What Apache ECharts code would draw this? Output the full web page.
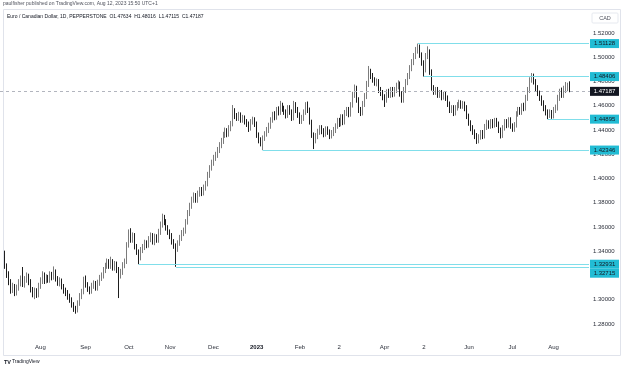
<!DOCTYPE html>
<html><head><meta charset="utf-8">
<script src="https://cdn.jsdelivr.net/npm/echarts@6/dist/echarts.min.js"></script>
<style>html,body{margin:0;padding:0;background:#fff}#c{width:625px;height:369px}</style>
</head><body><div id="c"></div>
<script>
// ---- data ----
const firstDate = '2022-07-06';
const barCount = 298; // 288 traded days + empty space on the right
const opens = [
1.3386,1.3278,1.3204,1.3146,1.3080,1.3105,1.3056,1.3097,1.3138,1.3171,
1.3130,1.3163,1.3188,1.3146,1.3080,1.3047,1.3072,1.3039,1.3113,1.3155,
1.3196,1.3155,1.3179,1.3163,1.3204,1.3188,1.3229,1.3171,1.3138,1.3155,
1.3105,1.3072,1.3056,1.3023,1.2998,1.2957,1.2924,1.2908,1.2973,1.3031,
1.3064,1.3163,1.3122,1.3089,1.3072,1.3113,1.3130,1.3097,1.3138,1.3179,
1.3196,1.3245,1.3278,1.3311,1.3278,1.3311,1.3262,1.3295,1.3245,1.3212,
1.3229,1.3286,1.3311,1.3451,1.3550,1.3493,1.3526,1.3435,1.3394,1.3344,
1.3410,1.3435,1.3468,1.3451,1.3501,1.3526,1.3476,1.3517,1.3493,1.3559,
1.3617,1.3674,1.3641,1.3592,1.3559,1.3526,1.3476,1.3443,1.3419,1.3468,
1.3509,1.3550,1.3567,1.3641,1.3716,1.3773,1.3823,1.3856,1.3823,1.3872,
1.3905,1.3880,1.3922,1.3955,1.4029,1.4087,1.4128,1.4169,1.4194,1.4235,
1.4276,1.4309,1.4359,1.4392,1.4367,1.4416,1.4449,1.4548,1.4515,1.4499,
1.4524,1.4482,1.4499,1.4466,1.4449,1.4416,1.4466,1.4482,1.4449,1.4359,
1.4317,1.4301,1.4334,1.4367,1.4400,1.4433,1.4482,1.4524,1.4507,1.4565,
1.4548,1.4598,1.4573,1.4548,1.4524,1.4581,1.4548,1.4499,1.4606,1.4565,
1.4524,1.4474,1.4499,1.4548,1.4606,1.4565,1.4466,1.4359,1.4317,1.4351,
1.4384,1.4416,1.4392,1.4367,1.4408,1.4384,1.4351,1.4375,1.4400,1.4433,
1.4474,1.4449,1.4507,1.4466,1.4540,1.4565,1.4532,1.4606,1.4689,1.4746,
1.4647,1.4565,1.4540,1.4614,1.4680,1.4779,1.4878,1.4845,1.4812,1.4788,
1.4796,1.4730,1.4705,1.4672,1.4647,1.4713,1.4689,1.4730,1.4697,1.4730,
1.4763,1.4779,1.4697,1.4647,1.4730,1.4796,1.4845,1.4911,1.4961,1.5010,
1.5060,1.5084,1.5018,1.4953,1.4895,1.5010,1.5043,1.4878,1.4746,1.4713,
1.4730,1.4689,1.4705,1.4672,1.4689,1.4664,1.4614,1.4565,1.4581,1.4540,
1.4581,1.4606,1.4623,1.4598,1.4614,1.4581,1.4515,1.4458,1.4416,1.4384,
1.4351,1.4309,1.4342,1.4375,1.4351,1.4425,1.4458,1.4433,1.4466,1.4441,
1.4474,1.4449,1.4400,1.4351,1.4416,1.4466,1.4441,1.4482,1.4433,1.4408,
1.4441,1.4532,1.4565,1.4548,1.4598,1.4581,1.4664,1.4730,1.4812,1.4854,
1.4796,1.4746,1.4705,1.4664,1.4623,1.4581,1.4548,1.4524,1.4540,1.4515,
1.4565,1.4581,1.4664,1.4713,1.4689,1.4730,1.4746,1.47634];
const closes = [
1.3278,1.3204,1.3146,1.3080,1.3105,1.3056,1.3097,1.3138,1.3171,1.3130,
1.3163,1.3188,1.3146,1.3080,1.3047,1.3072,1.3039,1.3113,1.3155,1.3196,
1.3155,1.3179,1.3163,1.3204,1.3188,1.3229,1.3171,1.3138,1.3155,1.3105,
1.3072,1.3056,1.3023,1.2998,1.2957,1.2924,1.2908,1.2973,1.3031,1.3064,
1.3163,1.3122,1.3089,1.3072,1.3113,1.3130,1.3097,1.3138,1.3179,1.3196,
1.3245,1.3278,1.3311,1.3278,1.3311,1.3262,1.3295,1.3245,1.3212,1.3229,
1.3286,1.3311,1.3451,1.3550,1.3493,1.3526,1.3435,1.3394,1.3344,1.3410,
1.3435,1.3468,1.3451,1.3501,1.3526,1.3476,1.3517,1.3493,1.3559,1.3617,
1.3674,1.3641,1.3592,1.3559,1.3526,1.3476,1.3443,1.3419,1.3468,1.3509,
1.3550,1.3567,1.3641,1.3716,1.3773,1.3823,1.3856,1.3823,1.3872,1.3905,
1.3880,1.3922,1.3955,1.4029,1.4087,1.4128,1.4169,1.4194,1.4235,1.4276,
1.4309,1.4359,1.4392,1.4367,1.4416,1.4449,1.4548,1.4515,1.4499,1.4524,
1.4482,1.4499,1.4466,1.4449,1.4416,1.4466,1.4482,1.4449,1.4359,1.4317,
1.4301,1.4334,1.4367,1.4400,1.4433,1.4482,1.4524,1.4507,1.4565,1.4548,
1.4598,1.4573,1.4548,1.4524,1.4581,1.4548,1.4499,1.4606,1.4565,1.4524,
1.4474,1.4499,1.4548,1.4606,1.4565,1.4466,1.4359,1.4317,1.4351,1.4384,
1.4416,1.4392,1.4367,1.4408,1.4384,1.4351,1.4375,1.4400,1.4433,1.4474,
1.4449,1.4507,1.4466,1.4540,1.4565,1.4532,1.4606,1.4689,1.4746,1.4647,
1.4565,1.4540,1.4614,1.4680,1.4779,1.4878,1.4845,1.4812,1.4788,1.4796,
1.4730,1.4705,1.4672,1.4647,1.4713,1.4689,1.4730,1.4697,1.4730,1.4763,
1.4779,1.4697,1.4647,1.4730,1.4796,1.4845,1.4911,1.4961,1.5010,1.5060,
1.5084,1.5018,1.4953,1.4895,1.5010,1.5043,1.4878,1.4746,1.4713,1.4730,
1.4689,1.4705,1.4672,1.4689,1.4664,1.4614,1.4565,1.4581,1.4540,1.4581,
1.4606,1.4623,1.4598,1.4614,1.4581,1.4515,1.4458,1.4416,1.4384,1.4351,
1.4309,1.4342,1.4375,1.4351,1.4425,1.4458,1.4433,1.4466,1.4441,1.4474,
1.4449,1.4400,1.4351,1.4416,1.4466,1.4441,1.4482,1.4433,1.4408,1.4441,
1.4532,1.4565,1.4548,1.4598,1.4581,1.4664,1.4730,1.4812,1.4854,1.4796,
1.4746,1.4705,1.4664,1.4623,1.4581,1.4548,1.4524,1.4540,1.4515,1.4565,
1.4581,1.4664,1.4713,1.4689,1.4730,1.4746,1.47634,1.47187];
const lows = [
1.3255,1.3180,1.3120,1.3050,1.3055,1.3030,1.3035,1.3075,1.3110,1.3105,
1.3100,1.3140,1.3120,1.3060,1.3020,1.3005,1.3015,1.3020,1.3090,1.3130,
1.3130,1.3135,1.3140,1.3140,1.3160,1.3165,1.3150,1.3115,1.3110,1.3085,
1.3050,1.3030,1.3000,1.2975,1.2935,1.2900,1.2885,1.2895,1.2950,1.3005,
1.3045,1.3100,1.3065,1.3045,1.3050,1.3090,1.3075,1.3075,1.3115,1.3155,
1.3175,1.3220,1.3255,1.3255,1.3255,1.3240,1.3240,1.3220,1.3014,1.3175,
1.3205,1.3260,1.3295,1.3430,1.3470,1.3470,1.3415,1.3370,1.32931,1.3325,
1.3385,1.3410,1.3425,1.3430,1.3475,1.3455,1.3450,1.3470,1.3470,1.3535,
1.3595,1.3615,1.3570,1.3535,1.3500,1.3455,1.3420,1.32715,1.3395,1.3445,
1.3485,1.3525,1.3545,1.3620,1.3690,1.3750,1.3800,1.3800,1.3800,1.3850,
1.3855,1.3860,1.3900,1.3935,1.4005,1.4065,1.4105,1.4145,1.4170,1.4210,
1.4250,1.4285,1.4335,1.4340,1.4345,1.4390,1.4430,1.4490,1.4475,1.4475,
1.4460,1.4460,1.4445,1.4425,1.4384,1.4395,1.4445,1.4425,1.4335,1.4290,
1.4265,1.42346,1.4310,1.4345,1.4375,1.4410,1.4460,1.4480,1.4485,1.4520,
1.4525,1.4550,1.4525,1.4495,1.4500,1.4525,1.4475,1.4480,1.4540,1.4500,
1.4450,1.4450,1.4475,1.4525,1.4540,1.4445,1.4335,1.4243,1.4290,1.4325,
1.4360,1.4365,1.4340,1.4345,1.4360,1.4325,1.4330,1.4350,1.4375,1.4410,
1.4425,1.4430,1.4440,1.4445,1.4515,1.4505,1.4510,1.4585,1.4665,1.4625,
1.4540,1.4515,1.4520,1.4590,1.4655,1.4755,1.4820,1.4790,1.4765,1.4760,
1.4705,1.4680,1.4645,1.4590,1.4625,1.4665,1.4665,1.4670,1.4675,1.4705,
1.4735,1.4675,1.4625,1.4625,1.4705,1.4770,1.4820,1.4885,1.4935,1.4985,
1.5030,1.4995,1.4930,1.48406,1.4875,1.4985,1.4855,1.4725,1.4690,1.4690,
1.4665,1.4665,1.4645,1.4650,1.4640,1.4590,1.4540,1.4540,1.4515,1.4520,
1.4560,1.4580,1.4575,1.4575,1.4555,1.4490,1.4435,1.4390,1.4360,1.4325,
1.4285,1.4290,1.4320,1.4325,1.4330,1.4400,1.4410,1.4410,1.4415,1.4420,
1.4425,1.4375,1.4330,1.4335,1.4395,1.4415,1.4420,1.4410,1.4385,1.4385,
1.4420,1.4510,1.4525,1.4525,1.4555,1.4560,1.4640,1.4705,1.4790,1.4775,
1.4720,1.4680,1.4640,1.4600,1.4555,1.4520,1.44895,1.4500,1.4492,1.4495,
1.4540,1.4560,1.4640,1.4665,1.4665,1.4705,1.4720,1.47115];
const highs = [
1.3405,1.3300,1.3235,1.3170,1.3140,1.3130,1.3125,1.3170,1.3200,1.3270,
1.3195,1.3225,1.3215,1.3170,1.3105,1.3100,1.3095,1.3140,1.3185,1.3235,
1.3225,1.3210,1.3205,1.3235,1.3230,1.3275,1.3250,1.3195,1.3185,1.3175,
1.3130,1.3100,1.3080,1.3050,1.3020,1.2980,1.2950,1.2995,1.3055,1.3090,
1.3190,1.3200,1.3145,1.3110,1.3140,1.3160,1.3155,1.3165,1.3205,1.3225,
1.3270,1.3305,1.3340,1.3335,1.3355,1.3335,1.3320,1.3315,1.3270,1.3255,
1.3310,1.3340,1.3475,1.3580,1.3590,1.3555,1.3550,1.3460,1.3415,1.3435,
1.3460,1.3495,1.3490,1.3525,1.3555,1.3550,1.3545,1.3540,1.3585,1.3645,
1.3710,1.3700,1.3665,1.3615,1.3580,1.3550,1.3500,1.3465,1.3490,1.3535,
1.3575,1.3595,1.3665,1.3740,1.3800,1.3850,1.3885,1.3880,1.3900,1.3930,
1.3930,1.3950,1.3980,1.4055,1.4110,1.4155,1.4195,1.4220,1.4260,1.4300,
1.4335,1.4385,1.4420,1.4415,1.4440,1.4475,1.4606,1.4580,1.4540,1.4550,
1.4545,1.4525,1.4520,1.4490,1.4470,1.4490,1.4510,1.4505,1.4470,1.4380,
1.4340,1.4355,1.4390,1.4425,1.4460,1.4505,1.4550,1.4555,1.4590,1.4595,
1.4640,1.4625,1.4600,1.4570,1.4605,1.4605,1.4570,1.4640,1.4630,1.4590,
1.4545,1.4525,1.4570,1.4630,1.4635,1.4585,1.4485,1.4380,1.4375,1.4410,
1.4440,1.4440,1.4415,1.4430,1.4430,1.4405,1.4400,1.4425,1.4455,1.4500,
1.4500,1.4530,1.4530,1.4565,1.4590,1.4590,1.4630,1.4715,1.4775,1.4765,
1.4670,1.4590,1.4640,1.4705,1.4805,1.4928,1.4905,1.4870,1.4835,1.4825,
1.4820,1.4755,1.4730,1.4695,1.4735,1.4740,1.4755,1.4755,1.4755,1.4790,
1.4810,1.4800,1.4720,1.4755,1.4820,1.4870,1.4935,1.4985,1.5035,1.5085,
1.51128,1.5105,1.5040,1.4975,1.5035,1.5090,1.5065,1.4900,1.4770,1.4755,
1.4755,1.4730,1.4730,1.4715,1.4715,1.4685,1.4635,1.4605,1.4605,1.4605,
1.4630,1.4650,1.4645,1.4640,1.4635,1.4605,1.4535,1.4480,1.4440,1.4405,
1.4375,1.4365,1.4400,1.4400,1.4450,1.4485,1.4480,1.4490,1.4490,1.4500,
1.4500,1.4470,1.4420,1.4440,1.4490,1.4490,1.4505,1.4505,1.4455,1.4465,
1.4555,1.4590,1.4590,1.4620,1.4625,1.4690,1.4755,1.4835,1.4870,1.4865,
1.4820,1.4770,1.4725,1.4685,1.4645,1.4605,1.4570,1.4570,1.4565,1.4590,
1.4610,1.4690,1.4740,1.4750,1.4765,1.4796,1.4790,1.48016];
const lastPrice = 1.47187;
const levelValues = [1.51128, 1.48406, 1.44895, 1.42346, 1.32931, 1.32715];
const levelStartDates = ['2023-04-26','2023-05-01','2023-07-27','2023-01-05','2022-10-10','2022-11-04'];
const monthKeys = ['2022-08','2022-09','2022-10','2022-11','2022-12','2023-01','2023-02','2023-03','2023-04','2023-05','2023-06','2023-07','2023-08'];
const monthLabels = ['Aug','Sep','Oct','Nov','Dec','2023','Feb','2','Apr','2','Jun','Jul','Aug'];
const yTicks = {min:1.26, max:1.54, step:0.02};

// ---- categories (trading weekdays) ----
const categories = [];
(function(){
  let d = new Date(firstDate + 'T00:00:00Z');
  while (categories.length < barCount) {
    const wd = d.getUTCDay();
    if (wd !== 0 && wd !== 6) categories.push(d.toISOString().slice(0,10));
    d = new Date(d.getTime() + 86400000);
  }
})();
const candleData = opens.map((o,i)=>[o, closes[i], lows[i], highs[i]]);
const lastCat = categories[categories.length-1];

const FONT = 'Liberation Sans, Arial, sans-serif';
const LINE_C = '#80deea';
const BOX_C = '#22bcd4';
let hiddenTicks = [];

const chart = echarts.init(document.getElementById('c'), null, {renderer:'canvas'});
const option = {
  animation:false,
  backgroundColor:'#ffffff',
  grid:{left:4, right:35, top:8.75, bottom:20.75, containLabel:false},
  xAxis:{
    type:'category', data:categories, boundaryGap:true,
    axisLine:{show:false}, axisTick:{show:false}, splitLine:{show:false},
    offset:-4,
    axisLabel:{
      margin:0, fontSize:6, color:'#2a2e39', fontFamily:FONT,
      interval:(idx)=> idx>0 && categories[idx].slice(0,7)!==categories[idx-1].slice(0,7) && monthKeys.indexOf(categories[idx].slice(0,7))>=0,
      formatter:(v)=>{const k=monthKeys.indexOf(v.slice(0,7)); const t=monthLabels[k]; return /^\d{4}$/.test(t)?'{b|'+t+'}':t;},
      rich:{b:{fontWeight:'bold', fontSize:6, fontFamily:FONT, color:'#131722'}}
    }
  },
  yAxis:{
    type:'value', position:'right', min:yTicks.min, max:yTicks.max, interval:yTicks.step, scale:true,
    axisLine:{show:false}, axisTick:{show:false}, splitLine:{show:false},
    axisLabel:{margin:3, fontSize:6, color:'#2a2e39', fontFamily:FONT,
      formatter:(v)=> (v<=yTicks.min+1e-9 || v>=yTicks.max-1e-9 || hiddenTicks.some(h=>Math.abs(h-v)<1e-9)) ? '' : v.toFixed(5)}
  },
  series:[{
    type:'candlestick', data:candleData, barWidth:1,
    itemStyle:{color:'#9a9a9a', color0:'#1e1e1e', borderColor:'#7c7c7c', borderColor0:'#1e1e1e', borderWidth:1},
    markLine:{
      silent:true, symbol:'none', animation:false,
      label:{show:false},
      data: levelValues.map((v,k)=>[
        {coord:[levelStartDates[k], v], lineStyle:{color:LINE_C, width:1, type:'solid'}},
        {coord:[lastCat, v]}
      ]).concat([[ {x:0, yAxis:lastPrice, lineStyle:{color:'#b2b5be', width:1, type:[3,3]}}, {x:590, yAxis:lastPrice} ]])
    }
  }]
};
chart.setOption(option);

// price labels on the scale
const boxes = levelValues.map(v=>({v, y:chart.convertToPixel({yAxisIndex:0}, v), bg:BOX_C, fg:'#131722'}));
boxes.push({v:lastPrice, y:chart.convertToPixel({yAxisIndex:0}, lastPrice), bg:'#131722', fg:'#ffffff'});
boxes.sort((a,b)=>a.y-b.y);
for (let i=1;i<boxes.length;i++){ if (boxes[i].y - boxes[i-1].y < 9) { boxes[i].y = boxes[i-1].y + 9; } }
// tick labels fully covered by a price box are hidden (as on the original scale)
for (let t=yTicks.min; t<=yTicks.max+1e-9; t+=yTicks.step){
  const tv = Math.round(t*100)/100;
  const ty = chart.convertToPixel({yAxisIndex:0}, tv);
  if (boxes.some(b=>Math.abs(b.y-ty)<3.8)) hiddenTicks.push(tv);
}
const gfx = [];
boxes.forEach(b=>{
  gfx.push({type:'rect', shape:{x:590, y:b.y-4.5, width:29, height:9}, style:{fill:b.bg}, z:100});
  gfx.push({type:'text', x:604.5, y:b.y, style:{text:b.v.toFixed(5), fill:b.fg, font:'6px '+FONT, textAlign:'center', textVerticalAlign:'middle'}, z:101});
});
gfx.push({type:'rect', shape:{x:3.5, y:9.5, width:617, height:346}, style:{fill:'none', stroke:'#e0e3eb', lineWidth:1}, z:0, silent:true});
gfx.push({type:'text', x:3, y:4, style:{text:'paulfisher published on TradingView.com, Aug 12, 2023 15:50 UTC+1', fill:'#50535e', font:'5px '+FONT, textVerticalAlign:'middle'}, z:100});
gfx.push({type:'text', x:7, y:17, style:{text:'Euro / Canadian Dollar, 1D, PEPPERSTONE  O1.47634  H1.48016  L1.47115  C1.47187', fill:'#131722', font:'5px '+FONT, textVerticalAlign:'middle'}, z:100});
gfx.push({type:'rect', shape:{x:592, y:13, width:26, height:10, r:1}, style:{fill:'#fff', stroke:'#e0e3eb', lineWidth:0.8}, z:100});
gfx.push({type:'text', x:605, y:18, style:{text:'CAD', fill:'#50535e', font:'5.5px '+FONT, textAlign:'center', textVerticalAlign:'middle'}, z:101});
gfx.push({type:'text', x:4, y:362, style:{text:'TV', fill:'#131722', font:'bold 5.5px '+FONT, textVerticalAlign:'middle'}, z:100});
gfx.push({type:'text', x:12, y:362, style:{text:'TradingView', fill:'#131722', font:'5px '+FONT, textVerticalAlign:'middle'}, z:100});
chart.setOption({graphic:gfx, yAxis:{axisLabel:{formatter:option.yAxis.axisLabel.formatter}}});
</script></body></html>
